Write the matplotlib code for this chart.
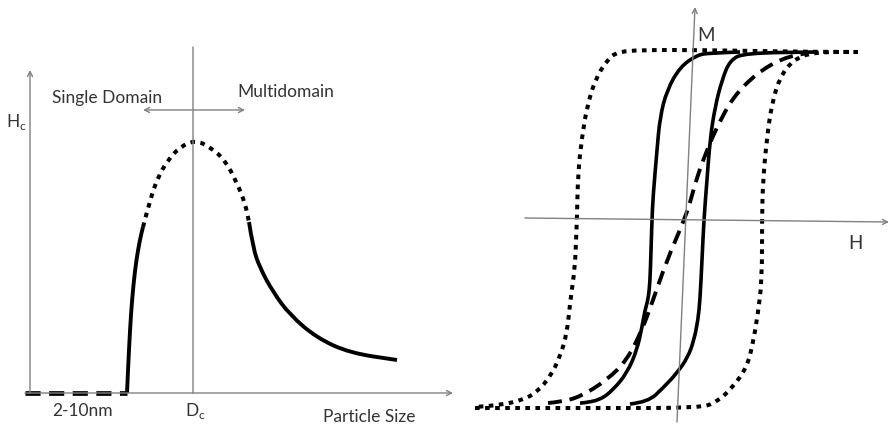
import matplotlib
matplotlib.use("Agg")
import matplotlib.pyplot as plt
from matplotlib.path import Path
from matplotlib.patches import PathPatch

# ---------------- data (pixel coords, y down) ----------------
# Left panel: coercivity vs particle size
sp_x = [25, 127]                      # superparamagnetic (dashed) baseline
sp_y = [393, 393]
rise_x = [127, 128, 130, 132, 135, 138, 141, 143]
rise_y = [393, 370, 330, 300, 270, 250, 235, 227]
peak_x = [143, 150, 158, 168, 180, 195, 210, 225, 237, 245, 249]
peak_y = [227, 200, 177, 160, 147, 140, 147, 160, 183, 203, 222]
decay_x = [249, 253, 260, 273, 290, 317, 350, 397]
decay_y = [222, 248, 268, 292, 315, 338, 353, 360]

# Right panel: hysteresis loops
outer_up_x = [858, 813, 700, 640, 617, 607, 595, 587, 582, 578, 577, 576, 575, 570, 567, 560, 550, 537, 523, 500, 475]
outer_up_y = [52, 52, 50, 50, 52, 60, 80, 107, 137, 173, 218, 240, 267, 303, 333, 357, 377, 392, 400, 405, 407]
outer_dn_x = [475, 600, 700, 717, 733, 747, 753, 758, 762, 762, 763, 767, 772, 780, 793, 813, 858]
outer_dn_y = [408, 408, 408, 402, 387, 367, 343, 313, 280, 218, 180, 137, 103, 77, 60, 52, 52]

inner_up_x = [740, 710, 697, 680, 667, 660, 657, 653, 652, 651, 650, 648, 645, 642, 637, 627, 613, 600, 583, 580]
inner_up_y = [52, 53, 55, 67, 90, 117, 150, 197, 220, 250, 283, 300, 310, 327, 350, 373, 390, 400, 403, 403]
inner_dn_x = [630, 648, 663, 677, 688, 694, 698, 700, 702, 704, 707, 710, 715, 722, 730, 745, 817]
inner_dn_y = [404, 402, 388, 373, 357, 340, 320, 300, 260, 218, 180, 140, 107, 80, 60, 53, 52]

spm_x = [548, 560, 580, 607, 627, 642, 652, 667, 683, 690, 697, 707, 717, 733, 757, 783, 807]
spm_y = [403, 402, 397, 380, 360, 330, 303, 260, 223, 203, 177, 150, 127, 97, 73, 58, 53]

# ---------------- figure ----------------
W, H = 891, 428
fig = plt.figure(figsize=(W / 100, H / 100), dpi=100)
ax = fig.add_axes([0, 0, 1, 1])
ax.set_xlim(0, W)
ax.set_ylim(H, 0)
ax.axis("off")

axis_col = "#808080"
text_col = "#333333"
font = ["Lato", "DejaVu Sans"]
arrow = dict(arrowstyle="->", color=axis_col, lw=1.0, mutation_scale=9, shrinkA=0, shrinkB=0)
plain = dict(arrowstyle="-", color=axis_col, lw=1.0, shrinkA=0, shrinkB=0)

DOT = (0, (1.15, 1.35))
DASH = (0, (3.6, 2.0))


def smooth(xs, ys, ls="-", lw=2.6):
    """Draw a smooth curve that uses the read points as quadratic Bezier controls."""
    pts = list(zip(xs, ys))
    verts = [pts[0]]
    codes = [Path.MOVETO]
    for i in range(1, len(pts) - 1):
        mid = ((pts[i][0] + pts[i + 1][0]) / 2, (pts[i][1] + pts[i + 1][1]) / 2)
        verts += [pts[i], mid]
        codes += [Path.CURVE3, Path.CURVE3]
    verts.append(pts[-1])
    codes.append(Path.LINETO)
    patch = PathPatch(Path(verts, codes), fill=False, edgecolor="black", lw=lw,
                      linestyle=ls, capstyle="butt", joinstyle="round")
    ax.add_patch(patch)


# Left axes
ax.annotate("", xy=(453, 393), xytext=(25, 393), arrowprops=arrow)
ax.annotate("", xy=(30, 70), xytext=(30, 393), arrowprops=arrow)
ax.annotate("", xy=(193, 47), xytext=(193, 393), arrowprops=plain)
ax.annotate("", xy=(143, 110), xytext=(245, 110),
            arrowprops=dict(arrowstyle="<->", color=axis_col, lw=1.0, mutation_scale=9, shrinkA=0, shrinkB=0))

ax.plot(sp_x, sp_y, color="black", lw=3.4, linestyle=(0, (3.2, 1.8)), dash_capstyle="butt")
smooth(rise_x, rise_y, "-", 2.8)
smooth(peak_x, peak_y, DOT, 2.9)
smooth(decay_x, decay_y, "-", 2.8)

fs = 12.5
ax.text(52, 98, "Single Domain", fontsize=fs, color=text_col, family=font, va="center", ha="left")
ax.text(237, 92, "Multidomain", fontsize=fs, color=text_col, family=font, va="center", ha="left")
ax.text(6, 122, r"H$_{\mathregular{c}}$", fontsize=fs, color=text_col, family=font, va="center", ha="left")
ax.text(52, 411, "2-10nm", fontsize=fs, color=text_col, family=font, va="center", ha="left")
ax.text(185, 411, r"D$_{\mathregular{c}}$", fontsize=fs, color=text_col, family=font, va="center", ha="left")
ax.text(323, 417, "Particle Size", fontsize=fs, color=text_col, family=font, va="center", ha="left")

# Right axes
ax.annotate("", xy=(889, 222), xytext=(525, 218), arrowprops=arrow)
ax.annotate("", xy=(695, 7), xytext=(677, 422), arrowprops=arrow)
ax.text(697, 35, "M", fontsize=13.5, color=text_col, family=font, va="center", ha="left")
ax.text(848, 243, "H", fontsize=13.5, color=text_col, family=font, va="center", ha="left")

smooth(outer_up_x, outer_up_y, DOT, 2.9)
smooth(outer_dn_x, outer_dn_y, DOT, 2.9)
smooth(inner_up_x, inner_up_y, "-", 2.6)
smooth(inner_dn_x, inner_dn_y, "-", 2.6)
smooth(spm_x, spm_y, DASH, 2.8)

fig.savefig("out.png", dpi=100)
